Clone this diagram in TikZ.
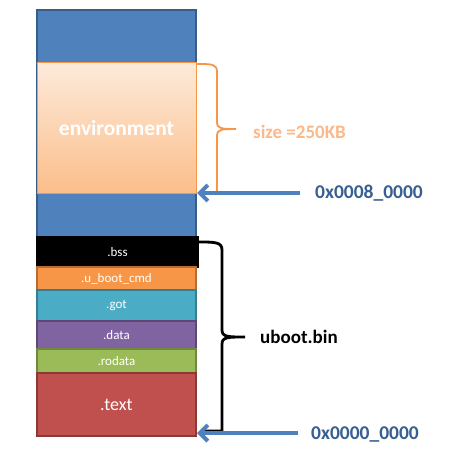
\documentclass[tikz,border=0pt]{standalone}
\usepackage{fontspec}
\setmainfont{Carlito}
\usetikzlibrary{arrows.meta}
\definecolor{blk}{HTML}{4F81BD}
\definecolor{blkb}{HTML}{385D8A}
\definecolor{envb}{HTML}{F79646}
\definecolor{envt}{HTML}{FDEADA}
\definecolor{envbot}{HTML}{FBBE8A}
\definecolor{cmdc}{HTML}{F79646}
\definecolor{cmdb}{HTML}{B66D31}
\definecolor{gotc}{HTML}{4BACC6}
\definecolor{gotb}{HTML}{357D91}
\definecolor{datac}{HTML}{8064A2}
\definecolor{datab}{HTML}{5C4776}
\definecolor{roc}{HTML}{9BBB59}
\definecolor{rob}{HTML}{71893F}
\definecolor{txtc}{HTML}{C0504D}
\definecolor{txtb}{HTML}{8C3836}
\definecolor{addrc}{HTML}{376092}
\definecolor{sizec}{HTML}{FAB98A}
\tikzset{
  sect/.style={draw, line width=1.2pt, minimum width=159pt, inner sep=0pt, text=white, font=\fontsize{13}{13}\selectfont},
  arrowst/.style={draw=blk, line width=4pt, -{Straight Barb[length=8pt,width=16pt]}},
  addr/.style={anchor=west, inner sep=0pt, text=addrc, font=\fontsize{19.5}{20}\selectfont\bfseries},
}
\begin{document}
\begin{tikzpicture}[x=1pt,y=-1pt]
\useasboundingbox[fill=white] (0,0) rectangle (449,449);
% column background
\node[sect, fill=blk, draw=blkb, minimum height=227pt] (blue) at (116.5,123.5) {};
\node[sect, draw=envb, top color=envt, bottom color=envbot, minimum height=130pt, line width=1pt,
      font=\fontsize{21.5}{22}\selectfont\bfseries] (env) at (116.5,128) {environment};
\node[sect, fill=black, draw=black, minimum width=161pt, minimum height=30pt] (bss) at (117.5,252) {.bss};
\node[sect, fill=cmdc, draw=cmdb, minimum height=23pt] (cmd) at (116.5,278.5) {.u\_boot\_cmd};
\node[sect, fill=gotc, draw=gotb, minimum height=31pt] (got) at (116.5,305.5) {.got};
\node[sect, fill=datac, draw=datab, minimum height=28pt] (data) at (116.5,335) {.data};
\node[sect, fill=roc, draw=rob, minimum height=24pt] (ro) at (116.5,361) {.rodata};
\node[sect, fill=txtc, draw=txtb, minimum height=63pt, font=\fontsize{18}{18}\selectfont] (text) at (116.5,404.5) {.text};
% orange brace
\draw[envb, line width=1.8pt] (197,64) .. controls (212,64) and (217,64) .. (217,72) -- (217,122)
  .. controls (217,129) and (222,129) .. (236,129)
  .. controls (222,129) and (217,129) .. (217,136) -- (217,192) -- (200,192);
\node[anchor=west, inner sep=0pt, text=sizec, font=\fontsize{19}{19}\selectfont\bfseries] (size) at (253,132) {size =250KB};
% black brace
\draw[black, line width=2.8pt] (198,242) .. controls (215,242) and (222,242) .. (222,250) -- (222,330)
  .. controls (222,337) and (228,337) .. (245,337)
  .. controls (228,337) and (222,337) .. (222,344) -- (222,431) -- (205,431);
\node[anchor=west, inner sep=0pt, font=\fontsize{19}{19}\selectfont\bfseries] (ub) at (260,337) {uboot.bin};
% addresses
\node[addr] (a1) at (315,193) {0x0008\_0000};
\node[addr] (a0) at (311,434) {0x0000\_0000};
\coordinate (a1s) at (300,193);
\coordinate (a0s) at (298,433);
\coordinate (a1e) at (197,193);
\coordinate (a0e) at (197,433);
\draw[arrowst] (a1s) -- (a1e);
\draw[arrowst] (a0s) -- (a0e);
\end{tikzpicture}
\end{document}
